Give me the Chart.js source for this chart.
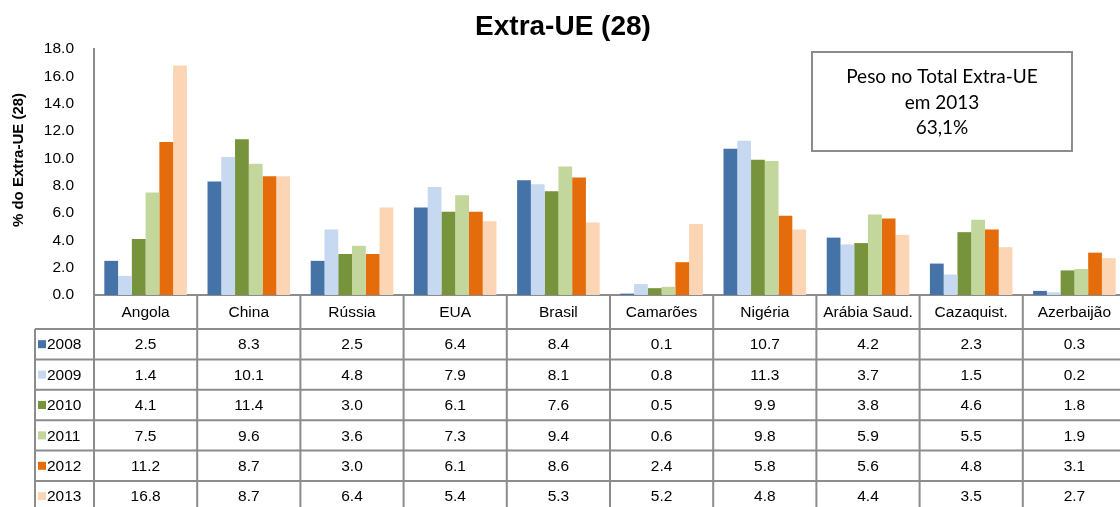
<!DOCTYPE html>
<html>
<head>
<meta charset="utf-8">
<script src="https://cdn.jsdelivr.net/npm/chart.js@4.4.1/dist/chart.umd.min.js"></script>
<style>
  html, body { margin: 0; padding: 0; background: #fff; overflow: hidden; }
  #wrap { width: 1126px; height: 507px; }
</style>
</head>
<body>
<div id="wrap"><canvas id="grafico"></canvas></div>
<script>
var paises = ['Angola', 'China', 'Rússia', 'EUA', 'Brasil', 'Camarões',
		'Nigéria', 'Arábia Saud.', 'Cazaquist.', 'Azerbaijão'];
var anos = ['2008', '2009', '2010', '2011', '2012', '2013'];
var v2008 = [2.5, 8.3, 2.5, 6.4, 8.4, 0.1, 10.7, 4.2, 2.3, 0.3];
var v2009 = [1.4, 10.1, 4.8, 7.9, 8.1, 0.8, 11.3, 3.7, 1.5, 0.2];
var v2010 = [4.1, 11.4, 3.0, 6.1, 7.6, 0.5, 9.9, 3.8, 4.6, 1.8];
var v2011 = [7.5, 9.6, 3.6, 7.3, 9.4, 0.6, 9.8, 5.9, 5.5, 1.9];
var v2012 = [11.2, 8.7, 3.0, 6.1, 8.6, 2.4, 5.8, 5.6, 4.8, 3.1];
var v2013 = [16.8, 8.7, 6.4, 5.4, 5.3, 5.2, 4.8, 4.4, 3.5, 2.7];
var valores = [v2008, v2009, v2010, v2011, v2012, v2013];
var cores = ['#4572a7', '#c6d9f1', '#77933c', '#c3d69b', '#e46c0a', '#fcd5b5'];
var nota = ['Peso no Total Extra-UE', 'em 2013', '63,1%'];
var tituloY = '% do Extra-UE (28)';

var corLinha = '#8c8c8c';
var fonte = '"Liberation Sans", Arial, sans-serif';

// tabela de dados por baixo do eixo, alinhada com a escala x
var tabela = {
	id : 'tabela',
	afterDraw : function(chart) {
		var ctx = chart.ctx;
		var xs = chart.scales.x;
		var area = chart.chartArea;
		var n = paises.length;
		var larg = (xs.right - xs.left) / n;
		var topo = area.bottom;
		var cab = topo + 34;
		var alt = 30.4;
		var fim = chart.height + 5;
		var esq = 35;

		ctx.save();
		ctx.strokeStyle = corLinha;
		ctx.lineWidth = 2;
		ctx.beginPath();
		// linhas verticais
		for (var i = 0; i <= n; i++) {
			var x = xs.left + i * larg;
			ctx.moveTo(x, topo);
			ctx.lineTo(x, fim);
		}
		ctx.moveTo(esq, cab);
		ctx.lineTo(esq, fim);
		// linhas horizontais
		for (var r = 0; r < anos.length; r++) {
			var y = cab + r * alt;
			ctx.moveTo(esq, y);
			ctx.lineTo(xs.right, y);
		}
		ctx.stroke();

		ctx.fillStyle = '#000';
		ctx.font = '15.5px ' + fonte;
		ctx.textAlign = 'center';
		ctx.textBaseline = 'middle';
		for (var i = 0; i < n; i++) {
			var cx = xs.getPixelForValue(i);
			ctx.fillText(paises[i], cx, (topo + cab) / 2 + 1);
			for (var r = 0; r < anos.length; r++) {
				ctx.fillText(valores[r][i].toFixed(1), cx, cab + r * alt + alt / 2 + 1);
			}
		}
		ctx.textAlign = 'left';
		for (var r = 0; r < anos.length; r++) {
			var cy = cab + r * alt + alt / 2;
			ctx.fillStyle = cores[r];
			ctx.fillRect(esq + 3, cy - 4, 8, 8);
			ctx.fillStyle = '#000';
			ctx.fillText(anos[r], esq + 12, cy + 1);
		}

		// titulo do eixo y
		ctx.save();
		ctx.translate(19, 160);
		ctx.rotate(-Math.PI / 2);
		ctx.textAlign = 'center';
		ctx.font = 'bold 15px ' + fonte;
		ctx.fillText(tituloY, 0, 0);
		ctx.restore();

		// caixa com o peso no total
		ctx.strokeStyle = corLinha;
		ctx.lineWidth = 2;
		ctx.strokeRect(812, 52, 260, 99);
		ctx.fillStyle = '#000';
		ctx.textAlign = 'center';
		ctx.font = '19px Lato, "Noto Sans", sans-serif';
		for (var k = 0; k < nota.length; k++) {
			ctx.fillText(nota[k], 942, 77 + k * 25.5);
		}
		ctx.restore();
	}
};

var datasets = [];
for (var r = 0; r < anos.length; r++) {
	datasets.push({
		label : anos[r],
		data : valores[r],
		backgroundColor : cores[r],
		borderWidth : 0,
		categoryPercentage : 0.8,
		barPercentage : 1.0
	});
}

var grafico = new Chart(document.getElementById('grafico'), {
	type : 'bar',
	data : {
		labels : paises,
		datasets : datasets
	},
	options : {
		responsive : true,
		maintainAspectRatio : false,
		animation : false,
		layout : { padding : 0 },
		plugins : {
			legend : { display : false },
			tooltip : { enabled : false },
			title : {
				display : true,
				text : 'Extra-UE (28)',
				color : '#000',
				font : { family : fonte, size : 28, weight : 'bold' },
				padding : { top : 10, bottom : 5.5 }
			}
		},
		scales : {
			x : {
				ticks : { display : false },
				grid : { display : false, drawTicks : false },
				border : { display : true, color : corLinha, width : 2 },
				afterFit : function(s) { s.height = 212; }
			},
			y : {
				min : 0,
				max : 18,
				ticks : {
					stepSize : 2,
					padding : 20,
					color : '#000',
					font : { family : fonte, size : 15.5 },
					callback : function(v) { return v.toFixed(1); }
				},
				grid : { display : false, drawTicks : false },
				border : { display : true, color : corLinha, width : 2 },
				afterFit : function(s) { s.width = 94; }
			}
		}
	},
	plugins : [ tabela ]
});
</script>
</body>
</html>
